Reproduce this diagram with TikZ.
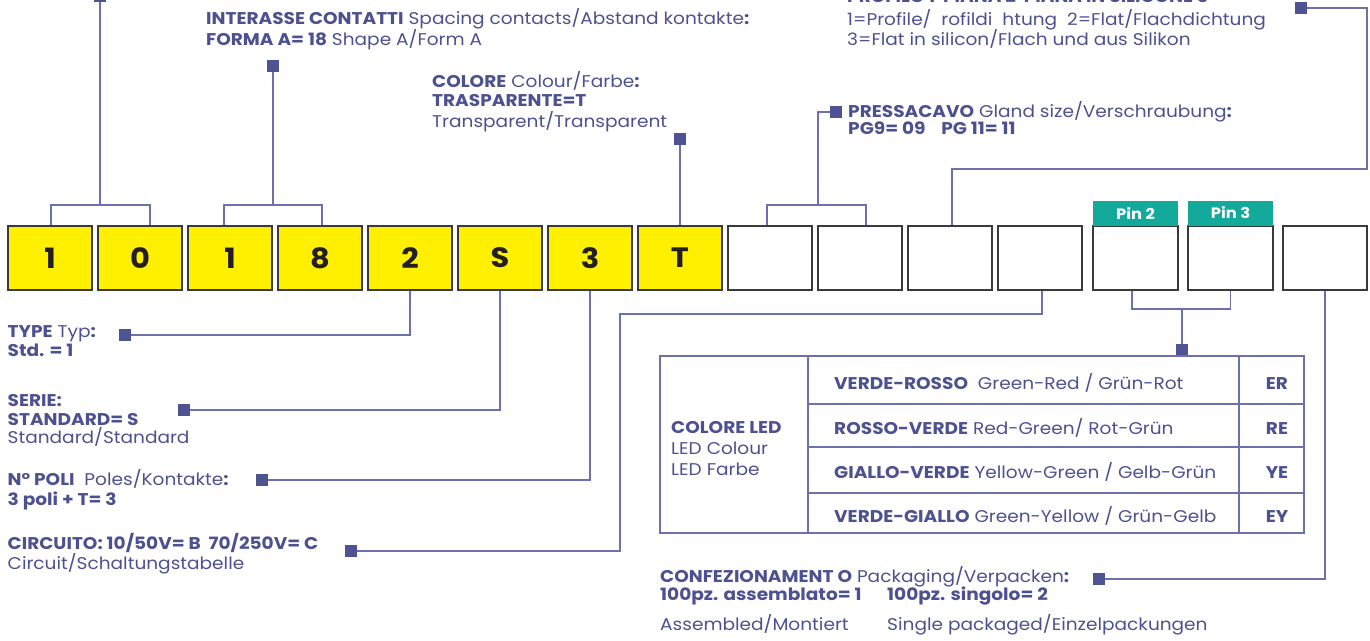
\documentclass[tikz,border=0pt]{standalone}
\usepackage{fontspec}
\setmainfont{Poppins}[FakeStretch=1.09]
\definecolor{txt}{HTML}{4E5190}
\definecolor{ln}{HTML}{6D71AA}
\definecolor{sq}{HTML}{4E5391}
\definecolor{ylw}{HTML}{FFF000}
\definecolor{tl}{HTML}{13A99B}
\definecolor{bd}{HTML}{3A3A3A}
\definecolor{dig}{HTML}{231F20}
\begin{document}
\begin{tikzpicture}[x=1pt,y=-1pt,
 cbox/.style={draw=bd, line width=1.3pt, minimum width=84pt, minimum height=64pt, inner sep=0pt, font=\fontsize{28}{28}\selectfont\bfseries, text=dig},
 ybox/.style={cbox, fill=ylw},
 wbox/.style={cbox, fill=white},
 pinlab/.style={fill=tl, minimum width=85pt, minimum height=25pt, inner sep=0pt, text=white, font=\fontsize{15}{15}\selectfont\bfseries},
 sqr/.style={fill=sq, minimum size=12pt, inner sep=0pt},
 conn/.style={draw=ln, line width=1.3pt},
 tbl/.style={draw=ln, line width=1.3pt},
 lbl/.style={anchor=base west, inner sep=0pt, text=txt, font=\fontsize{17}{19}\selectfont},
 code/.style={anchor=base, inner sep=0pt, text=txt, font=\fontsize{17}{19}\selectfont\bfseries},
]
\useasboundingbox (0,0) rectangle (1370,640);
\fill[white] (0,0) rectangle (1370,640);

% code boxes
\node[ybox] (b1) at (50,258) {1};
\node[ybox] (b2) at (140,258) {0};
\node[ybox] (b3) at (230,258) {1};
\node[ybox] (b4) at (320,258) {8};
\node[ybox] (b5) at (410,258) {2};
\node[ybox] (b6) at (500,258) {S};
\node[ybox] (b7) at (590,258) {3};
\node[ybox] (b8) at (680,258) {T};
\node[wbox] (b9) at (770,258) {};
\node[wbox] (b10) at (860,258) {};
\node[wbox] (b11) at (950,258) {};
\node[wbox] (b12) at (1040,258) {};
\node[wbox, minimum width=85pt] (p2) at (1135.5,258) {};
\node[wbox, minimum width=85pt] (p3) at (1230.5,258) {};
\node[wbox] (b15) at (1325,258) {};
\node[pinlab] (l2) at (1135.5,213) {Pin 2};
\node[pinlab] (l3) at (1230.5,213) {Pin 3};

% squares
\node[sqr] (sqA) at (100,-4) {};
\node[sqr] (sqB) at (273,66) {};
\node[sqr] (sqC) at (680,139) {};
\node[sqr] (sqD) at (836,112) {};
\node[sqr] (sqE) at (1301,8) {};
\node[sqr] (sqF) at (351,551) {};
\node[sqr] (sqG) at (125,335) {};
\node[sqr] (sqH) at (184,410) {};
\node[sqr] (sqI) at (262,480) {};
\node[sqr] (sqJ) at (1182,350) {};
\node[sqr] (sqK) at (1099,579) {};

% junction coordinates
\coordinate (jA) at (100,205);
\coordinate (jB) at (273,205);
\coordinate (jD) at (818,205);
\coordinate (cE) at (1367,169);
\coordinate (cF) at (620,314);
\coordinate (jJ) at (1182,309);

% connectors
\draw[conn] (sqA) -- (jA);
\draw[conn] ([xshift=1pt]b1.north) |- (jA) -| ([xshift=10pt]b2.north);
\draw[conn] (sqB) -- (jB);
\draw[conn] ([xshift=-6pt]b3.north) |- (jB) -| ([xshift=2pt]b4.north);
\draw[conn] (sqC) -- (b8.north);
\draw[conn] (sqD.west) -| (jD);
\draw[conn] ([xshift=-3pt]b9.north) |- (jD) -| ([xshift=6pt]b10.north);
\draw[conn] (sqE.east) -| (cE) -| ([xshift=2pt]b11.north);
\draw[conn] ([xshift=2pt]b12.south) |- (cF) |- (sqF.east);
\draw[conn] (b5.south) |- (sqG.east);
\draw[conn] (b6.south) |- (sqH.east);
\draw[conn] (b7.south) |- (sqI.east);
\draw[conn] ([xshift=-3.5pt]p2.south) |- (jJ) -| (p3.south);
\draw[conn] (jJ) -- (sqJ);
\draw[conn] (b15.south) |- (sqK.east);

% top labels
\node[lbl] (tA1) at (206,24) {\textbf{INTERASSE CONTATTI} Spacing contacts/Abstand kontakte\textbf{:}};
\node[lbl] (tA2) at (206,45) {\textbf{FORMA A= 18} Shape A/Form A};
\node[lbl] (tC1) at (432,87) {\textbf{COLORE} Colour/Farbe\textbf{:}};
\node[lbl] (tC2) at (432,106) {\textbf{TRASPARENTE=T}};
\node[lbl] (tC3) at (432,127) {Transparent/Transparent};
\node[lbl] (tE0) at (847,2.5) {\textbf{PROFILO 1 \ PIANA 2 \ PIANA IN SILICONE 3}};
\node[lbl] (tE1) at (847,25) {1=Profile/\ \ rofildi\ \ htung\ \ 2=Flat/Flachdichtung};
\node[lbl] (tE2) at (847,45) {3=Flat in silicon/Flach und aus Silikon};
\node[lbl] (tD1) at (848,117) {\textbf{PRESSACAVO} Gland size/Verschraubung\textbf{:}};
\node[lbl] (tD2) at (848,134) {\textbf{PG9= 09\ \ \ \ PG 11= 11}};

% left labels
\node[lbl] (tG1) at (7.5,337) {\textbf{TYPE} Typ\textbf{:}};
\node[lbl] (tG2) at (7.5,356) {\textbf{Std. = 1}};
\node[lbl] (tH1) at (7.5,406) {\textbf{SERIE:}};
\node[lbl] (tH2) at (7.5,425) {\textbf{STANDARD= S}};
\node[lbl] (tH3) at (7.5,443) {Standard/Standard};
\node[lbl] (tI1) at (7.5,485) {\textbf{N° POLI}\ \ Poles/Kontakte\textbf{:}};
\node[lbl] (tI2) at (7.5,505) {\textbf{3 poli + T= 3}};
\node[lbl] (tF1) at (7.5,549) {\textbf{CIRCUITO: 10/50V= B\ \ 70/250V= C}};
\node[lbl] (tF2) at (7.5,569) {Circuit/Schaltungstabelle};

% packaging
\node[lbl] (tK1) at (660,582) {\textbf{CONFEZIONAMENT O} Packaging/Verpacken\textbf{:}};
\node[lbl] (tK2) at (660,600) {\textbf{100pz. assemblato= 1}};
\node[lbl] (tK3) at (887,600) {\textbf{100pz. singolo= 2}};
\node[lbl] (tK4) at (660,630) {Assembled/Montiert};
\node[lbl] (tK5) at (887,630) {Single packaged/Einzelpackungen};

% LED table
\draw[tbl] (660,356) rectangle (1304,533);
\draw[tbl] (808,356) -- (808,533);
\draw[tbl] (1239,356) -- (1239,533);
\draw[tbl] (808,404) -- (1304,404);
\draw[tbl] (808,447) -- (1304,447);
\draw[tbl] (808,493) -- (1304,493);
\node[lbl] (tL1) at (671,433) {\textbf{COLORE LED}};
\node[lbl] (tL2) at (671,454) {LED Colour};
\node[lbl] (tL3) at (671,475) {LED Farbe};
\node[lbl] (r1) at (834,389) {\textbf{VERDE-ROSSO}\ \ Green-Red / Grün-Rot};
\node[lbl] (r2) at (834,434) {\textbf{ROSSO-VERDE} Red-Green/ Rot-Grün};
\node[lbl] (r3) at (834,478) {\textbf{GIALLO-VERDE} Yellow-Green / Gelb-Grün};
\node[lbl] (r4) at (834,522) {\textbf{VERDE-GIALLO} Green-Yellow / Grün-Gelb};
\node[code] (c1) at (1277,389) {ER};
\node[code] (c2) at (1277,434) {RE};
\node[code] (c3) at (1277,478) {YE};
\node[code] (c4) at (1277,522) {EY};
\end{tikzpicture}
\end{document}
